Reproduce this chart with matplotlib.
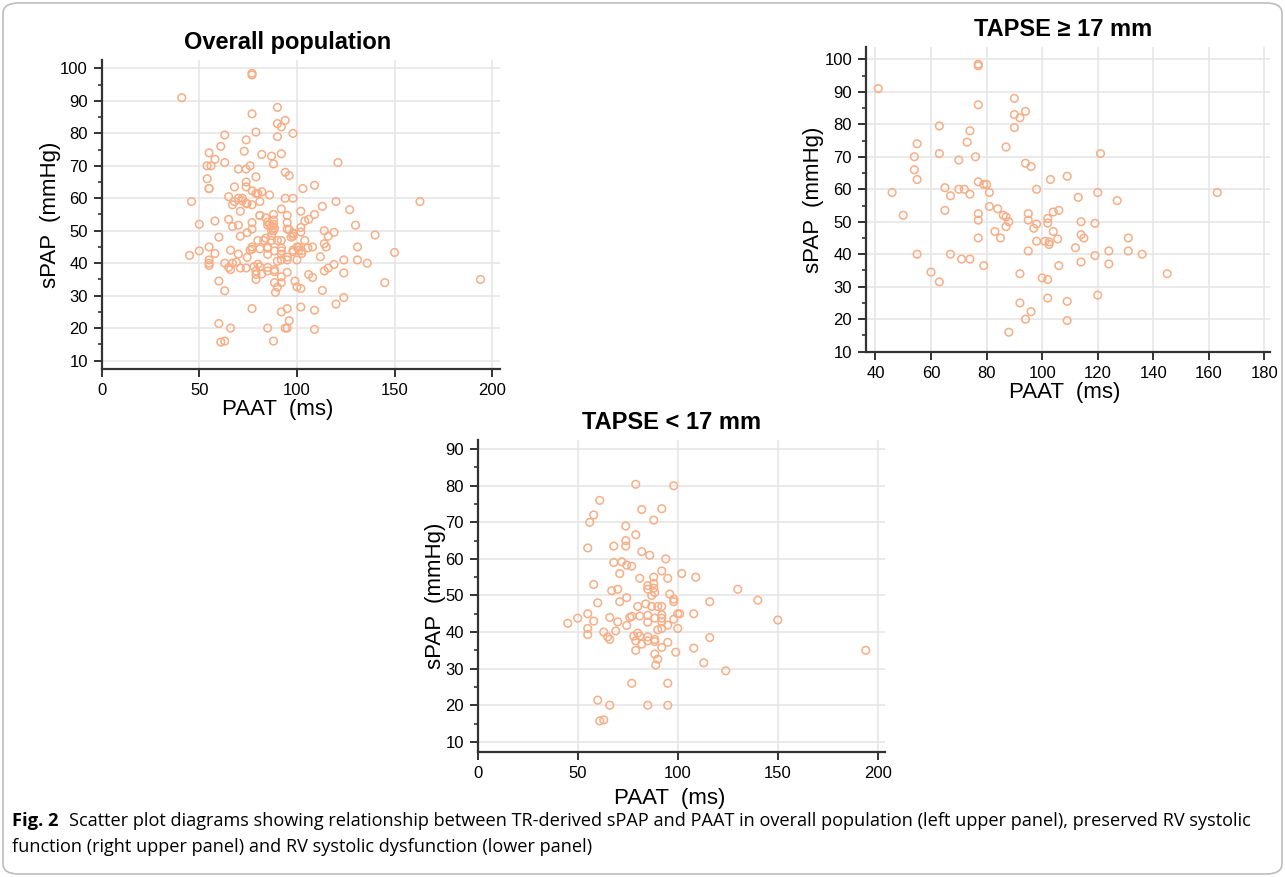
import matplotlib
matplotlib.use("Agg")
import matplotlib.pyplot as plt
from matplotlib.patches import FancyBboxPatch
import numpy as np

plt.rcParams['font.family'] = ['Liberation Sans', 'DejaVu Sans']

# TAPSE >= 17 mm  (preserved RV systolic function)
paat_hi = [77, 77, 41, 90, 77, 90, 94, 92, 90, 63, 74, 55, 73, 87, 54, 63, 70, 76,
           54, 94, 96, 55, 103, 77, 79, 80, 46, 65, 67, 70, 72, 74, 81, 98,
           121, 109, 120, 113, 127, 163,
           50, 65, 77, 77, 81, 84, 86, 87, 88, 87, 95, 95, 97, 98, 102, 102, 104, 106,
           104, 83, 85, 77, 98, 101, 102.5, 102.5, 105.6, 95, 55, 67, 71, 74, 79, 106,
           60, 63, 92, 100, 102, 102, 92, 96, 94, 88,
           114, 119, 114, 115, 112, 131, 124, 131, 119, 136, 114, 124, 145, 120, 109, 109]
spap_hi = [98.5, 98, 91, 88, 86, 83, 84, 82, 79, 79.5, 78, 74, 74.5, 73, 70, 71, 69, 70,
           66, 68, 67, 63, 63, 62.3, 61.5, 61.5, 59, 60.5, 58, 60, 60, 58.5, 59, 60,
           71, 64, 59, 57.5, 56.5, 59,
           52, 53.5, 52.5, 50.5, 54.7, 54, 52, 51.5, 50, 48.5, 52.5, 50.5, 48, 49.3, 51, 49.6, 53, 53.5,
           47, 47, 45, 45, 44, 44, 43.8, 43, 44.7, 41, 40, 40, 38.5, 38.5, 36.5, 36.5,
           34.5, 31.5, 34, 32.7, 32.2, 26.5, 25, 22.3, 20, 16,
           50, 49.5, 46, 45, 42, 45, 41, 41, 39.6, 40, 37.6, 37, 34, 27.4, 25.5, 19.6]

# TAPSE < 17 mm  (RV systolic dysfunction)
paat_lo = [79, 98, 61, 82, 92, 58, 56, 88, 74, 79, 74, 74, 68, 55, 82, 86, 94, 68, 72,
           74.5, 77, 71, 92, 102, 81, 88, 95, 58, 85, 88, 88, 88.5, 85, 67, 70, 74.5, 96,
           98, 87, 109, 130, 116, 140, 108, 101, 150, 116, 108, 113, 124, 194,
           60, 71, 80, 84, 87, 90, 92, 98, 45, 50, 55, 58, 55, 55, 66, 70, 63, 65, 66, 69,
           74.5, 76, 77, 81, 85, 85, 88.5, 92, 92, 92, 92, 90, 95, 98, 100, 100, 78, 80, 81,
           79, 79, 82, 85, 85, 88.5, 88.5, 92, 95, 99, 88.5, 90, 89, 77, 95, 60, 66, 85, 95,
           61, 63]
spap_lo = [80.4, 80, 76, 73.5, 73.7, 72, 70, 70.6, 69, 66.6, 65, 63.5, 63.5, 63, 62, 61, 60, 59, 59.2,
           58.3, 58, 56, 56.7, 56, 54.7, 55, 54.7, 53, 52.7, 53.3, 52, 50.8, 51.7, 51.3, 51.7, 49.4, 50.4,
           49, 50, 55, 51.7, 48.3, 48.7, 45, 45, 43.3, 38.5, 35.6, 31.6, 29.4, 35,
           48, 48.3, 47, 47.7, 47, 47, 47, 48.3, 42.4, 43.8, 45, 43, 41, 39.3, 44, 42.8, 40, 38.7, 38, 40.3,
           41.8, 44, 44.3, 44.4, 44.6, 42.7, 43.8, 44.7, 43.8, 42.8, 41, 40.6, 41.9, 43.5, 45, 41, 38.9, 39.7, 38.9,
           37.6, 35, 36.7, 38.7, 37.6, 38, 37.4, 35.8, 37.2, 34.5, 34, 32.6, 31, 26, 26, 21.4, 20, 20, 20,
           15.7, 16]

paat_all = paat_hi + paat_lo
spap_all = spap_hi + spap_lo

titles = ['Overall population', 'TAPSE \u2265 17 mm', 'TAPSE < 17 mm']

fig = plt.figure(figsize=(12.85, 8.77), dpi=100)
W, H = 1285, 877

def px_axes(l, t, r, b):
    return fig.add_axes([l / W, 1 - b / H, (r - l) / W, (b - t) / H])

ax1 = px_axes(101.7, 60, 500, 369)
ax2 = px_axes(866, 47, 1270, 352)
ax3 = px_axes(477.7, 440, 885, 751.7)

mcol = '#f6ae86'
panels = [
    (ax1, paat_all, spap_all, (0, 204), (7.4, 102.6), [0, 50, 100, 150, 200], range(10, 101, 10),
     0.468, 0.443, -0.102, 1),
    (ax2, paat_hi, spap_hi, (36.6, 182), (9.9, 103.8), range(40, 181, 20), range(10, 101, 10),
     0.488, 0.493, -0.104, 1),
    (ax3, paat_lo, spap_lo, (0, 203.6), (7.3, 92.5), [0, 50, 100, 150, 200], range(10, 91, 10),
     0.477, 0.472, -0.077, 5),
]
for (ax, x, y, xl, yl, xt, yt, tx, lx, ly, lp), title in zip(panels, titles):
    ax.scatter(x, y, s=30, facecolors='none', edgecolors=mcol, linewidths=1.1, zorder=3)
    ax.set_xlim(*xl)
    ax.set_ylim(*yl)
    ax.set_xticks(list(xt))
    ax.set_yticks(list(yt))
    ax.set_yticks(np.arange(yt[0] + 5, yt[-1], 10), minor=True)
    ax.grid(True, color='#e6e6e6', linewidth=1.2, zorder=0)
    for s in ['top', 'right']:
        ax.spines[s].set_visible(False)
    for s in ['left', 'bottom']:
        ax.spines[s].set_linewidth(1.6)
        ax.spines[s].set_color('#333333')
    ax.tick_params(which='major', length=6, width=1.4, color='#333333', labelsize=12, pad=4)
    ax.tick_params(which='minor', length=3, width=1.2, color='#333333')
    ax.set_title(title, fontsize=17, fontweight='bold', pad=8, x=tx)
    ax.set_xlabel('PAAT  (ms)', fontsize=16, labelpad=lp, x=lx)
    ax.set_ylabel('sPAP  (mmHg)', fontsize=16)
    ax.yaxis.set_label_coords(ly, 0.5)

# caption box
box = FancyBboxPatch((3 / W, 3 / H), (W - 6) / W, (H - 6) / H,
                     boxstyle='round,pad=0,rounding_size=0.012',
                     transform=fig.transFigure, fill=False, edgecolor='#bdbdbd', linewidth=1.2)
fig.patches.append(box)

cap = ['Open Sans', 'DejaVu Sans']
fig.text(12 / W, 1 - 821 / H, 'Fig. 2', fontsize=13.2, fontweight='bold', va='center', family=cap)
fig.text(69 / W, 1 - 821 / H,
         'Scatter plot diagrams showing relationship between TR-derived sPAP and PAAT in overall population '
         '(left upper panel), preserved RV systolic',
         fontsize=13.1, va='center', family=cap)
fig.text(12 / W, 1 - 847 / H,
         'function (right upper panel) and RV systolic dysfunction (lower panel)',
         fontsize=13.1, va='center', family=cap)

fig.savefig('out.png', dpi=100)
